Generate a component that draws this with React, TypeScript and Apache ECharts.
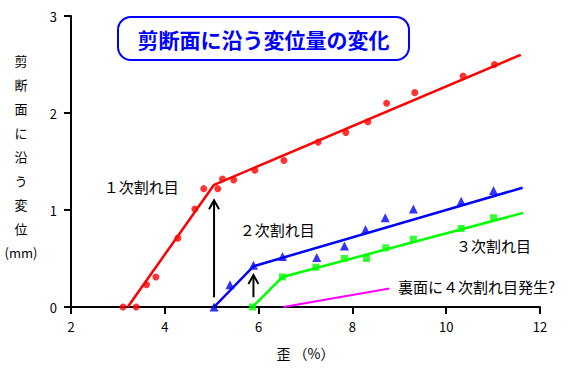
import React, { useEffect, useRef } from "react";
import * as echarts from "echarts";

const xTicks = [2, 4, 6, 8, 10, 12];
const yTicks = [0, 1, 2, 3];

const redPoints = [
  [3.11, 0], [3.39, 0], [3.61, 0.23], [3.81, 0.31], [4.28, 0.71], [4.64, 1.01],
  [4.83, 1.22], [5.13, 1.22], [5.23, 1.32], [5.47, 1.31], [5.92, 1.41], [6.54, 1.51],
  [7.27, 1.7], [7.86, 1.8], [8.33, 1.91], [8.73, 2.1], [9.33, 2.21], [10.36, 2.38], [11.03, 2.5],
];
const redFit = [[3.21, 0], [5.05, 1.26], [11.59, 2.6]];

const bluePoints = [
  [5.05, 0], [5.39, 0.23], [5.89, 0.43], [6.51, 0.52], [7.24, 0.51], [7.83, 0.63],
  [8.28, 0.8], [8.7, 0.92], [9.3, 1.01], [10.32, 1.09], [11.01, 1.2],
];
const blueFit = [[5.05, 0], [5.89, 0.42], [11.63, 1.23]];

const greenPoints = [
  [5.87, 0], [6.51, 0.31], [7.22, 0.41], [7.83, 0.5], [8.3, 0.5], [8.71, 0.61],
  [9.3, 0.7], [10.32, 0.81], [11.01, 0.92],
];
const greenFit = [[5.87, 0], [6.51, 0.31], [11.64, 0.97]];

const magentaFit = [[6.53, 0], [8.79, 0.19]];

// [x, yFrom, yTo]
const arrows = [[5.05, 0.1, 1.1], [5.89, 0.1, 0.33]];

const annotationTexts = ["１次割れ目", "２次割れ目", "３次割れ目", "裏面に４次割れ目発生?"];
const annotationPos = [[2.7, 1.24], [5.6, 0.8], [10.21, 0.63], [8.97, 0.21]];

const titleText = "剪断面に沿う変位量の変化";
const yAxisTitle = ["剪", "断", "面", "に", "沿", "う", "変", "位", "(mm)"];
const xAxisTitle = "歪 （%）";

const FONT = "'Noto Sans CJK JP', 'DejaVu Sans', sans-serif";

export default function App() {
  const ref = useRef<HTMLDivElement>(null);
  useEffect(() => {
    if (!ref.current) return;
    const chart = echarts.init(ref.current, null, { renderer: "svg" });
    const option: any = {
      animation: false,
      backgroundColor: "#ffffff",
      textStyle: { fontFamily: FONT },
      grid: { left: 71, right: 31, top: 16, bottom: 67 },
      xAxis: {
        type: "value",
        min: xTicks[0],
        max: xTicks[xTicks.length - 1],
        interval: 2,
        splitLine: { show: false },
        axisLine: { lineStyle: { color: "#000", width: 2 } },
        axisTick: { length: 7, lineStyle: { color: "#000", width: 2 } },
        axisLabel: { color: "#000", fontSize: 13, margin: 13, fontFamily: FONT },
        name: xAxisTitle,
        nameLocation: "middle",
        nameGap: 39,
        nameTextStyle: { color: "#000", fontSize: 14, fontFamily: FONT },
      },
      yAxis: {
        type: "value",
        min: yTicks[0],
        max: yTicks[yTicks.length - 1],
        interval: 1,
        splitLine: { show: false },
        axisLine: { show: true, lineStyle: { color: "#000", width: 2 } },
        axisTick: { show: true, length: 7, lineStyle: { color: "#000", width: 2 } },
        axisLabel: { color: "#000", fontSize: 13, margin: 14, fontFamily: FONT },
      },
      graphic: [
        {
          type: "group",
          left: 117,
          top: 16,
          children: [
            {
              type: "rect",
              shape: { x: 0, y: 0, width: 291, height: 43, r: 13 },
              style: { fill: "#fff", stroke: "#0000ff", lineWidth: 2 },
            },
            {
              type: "text",
              x: 145.5,
              y: 22,
              style: {
                text: titleText,
                fill: "#0000ff",
                fontSize: 21,
                fontWeight: "bold",
                fontFamily: FONT,
                align: "center",
                verticalAlign: "middle",
              },
            },
          ],
        },
        {
          type: "text",
          x: 21,
          y: 48,
          style: {
            text: yAxisTitle.join("\n"),
            fill: "#000",
            fontSize: 13,
            lineHeight: 24,
            fontFamily: FONT,
            align: "center",
            verticalAlign: "top",
          },
        },
      ],
      series: [
        {
          type: "line",
          data: redFit,
          showSymbol: false,
          lineStyle: { color: "#ff0000", width: 2.5 },
          z: 2,
        },
        {
          type: "scatter",
          data: redPoints,
          symbol: "circle",
          symbolSize: 7,
          itemStyle: { color: "#ff0000" },
          z: 3,
        },
        {
          type: "line",
          data: blueFit,
          showSymbol: false,
          lineStyle: { color: "#0000ff", width: 2.5 },
          z: 2,
        },
        {
          type: "scatter",
          data: bluePoints,
          symbol: "triangle",
          symbolSize: 9,
          itemStyle: { color: "#0000ff" },
          z: 3,
        },
        {
          type: "line",
          data: greenFit,
          showSymbol: false,
          lineStyle: { color: "#00ff00", width: 2.5 },
          z: 2,
        },
        {
          type: "scatter",
          data: greenPoints,
          symbol: "rect",
          symbolSize: 7,
          itemStyle: { color: "#00ff00" },
          z: 3,
        },
        {
          type: "line",
          data: magentaFit,
          showSymbol: false,
          lineStyle: { color: "#ff00ff", width: 2 },
          z: 2,
        },
        {
          type: "custom",
          data: arrows,
          encode: { x: 0, y: [1, 2] },
          z: 4,
          renderItem: (params: any, api: any) => {
            const x = api.value(0);
            const p0 = api.coord([x, api.value(1)]);
            const p1 = api.coord([x, api.value(2)]);
            return {
              type: "group",
              children: [
                {
                  type: "line",
                  shape: { x1: p0[0], y1: p0[1], x2: p1[0], y2: p1[1] + 1 },
                  style: { stroke: "#000", lineWidth: 2 },
                },
                {
                  type: "polyline",
                  shape: {
                    points: [
                      [p1[0] - 5, p1[1] + 9],
                      [p1[0], p1[1]],
                      [p1[0] + 5, p1[1] + 9],
                    ],
                  },
                  style: { stroke: "#000", lineWidth: 2, fill: "none" },
                },
              ],
            };
          },
        },
        {
          type: "custom",
          data: annotationPos,
          encode: { x: 0, y: 1 },
          z: 5,
          renderItem: (params: any, api: any) => {
            const p = api.coord([api.value(0), api.value(1)]);
            return {
              type: "text",
              x: p[0],
              y: p[1],
              style: {
                text: annotationTexts[params.dataIndex],
                fill: "#000",
                fontSize: 15,
                fontFamily: FONT,
                align: "left",
                verticalAlign: "middle",
              },
            };
          },
        },
      ],
    };
    chart.setOption(option);
    return () => chart.dispose();
  }, []);
  return (
    <div
      ref={ref}
      style={{ position: "absolute", left: 0, top: 0, width: 571, height: 374 }}
    />
  );
}
